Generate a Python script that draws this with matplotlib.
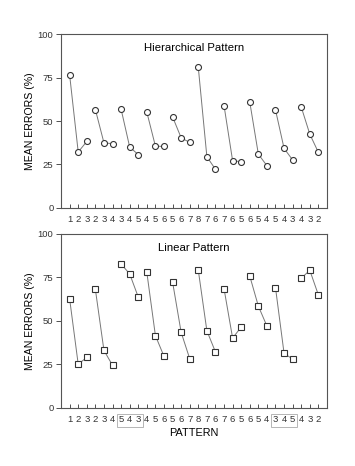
import matplotlib
matplotlib.use("Agg")
import matplotlib.pyplot as plt
from matplotlib.patches import Rectangle
import matplotlib.transforms as mtransforms

plt.rcParams['font.family'] = ['Liberation Sans', 'DejaVu Sans']

top_labels = [1,2,3,2,3,4,3,4,5,4,5,6,5,6,7,8,7,6,7,6,5,6,5,4,5,4,3,4,3,2]
bottom_labels = [1,2,3,2,3,4,5,4,3,4,5,6,5,6,7,8,7,6,7,6,5,6,5,4,3,4,5,4,3,2]

hier_values = [76.6, 32.2, 38.3, 56.7, 37.5, 37.0, 56.9, 35.1, 30.7, 55.2,
               35.6, 35.4, 52.5, 40.4, 37.7, 81.0, 29.5, 22.2, 59.0, 27.2,
               26.6, 61.1, 31.0, 24.3, 56.5, 34.3, 27.6, 58.2, 42.5, 32.0]
lin_values = [62.6, 25.0, 29.0, 68.1, 33.0, 24.4, 82.7, 77.0, 63.7, 77.9,
              41.5, 29.6, 72.4, 43.4, 28.2, 79.1, 44.3, 32.1, 68.5, 40.1,
              46.4, 75.8, 58.5, 47.0, 69.1, 31.3, 28.0, 74.5, 79.1, 64.9]
boxed_groups = [(7, 9), (25, 27)]

fig = plt.figure(figsize=(3.55, 4.66), dpi=100)
ax1 = fig.add_axes([0.172, 0.554, 0.749, 0.372])
ax2 = fig.add_axes([0.172, 0.125, 0.749, 0.373])

def draw(ax, values, labels, marker, title):
    xs = list(range(1, len(values) + 1))
    for g in range(0, len(values), 3):
        ax.plot(xs[g:g+3], values[g:g+3], color='#777777', lw=0.7,
                marker=marker, ms=4.3, mfc='white', mec='#333333', mew=0.8)
    ax.set_xlim(0, 31)
    ax.set_ylim(0, 100)
    ax.set_yticks([0, 25, 50, 75, 100])
    ax.set_xticks(xs)
    ax.set_xticklabels([str(v) for v in labels], fontsize=6.8)
    ax.tick_params(axis='x', direction='in', length=3, width=0.6, pad=5, colors='#333333')
    ax.tick_params(axis='y', direction='out', length=3.5, width=0.6, pad=2,
                   labelsize=6.8, colors='#333333')
    for s in ax.spines.values():
        s.set_color('#555555')
        s.set_linewidth(0.8)
    ax.set_ylabel('MEAN ERRORS (%)', fontsize=7.6, labelpad=2)
    ax.text(0.5, 0.92, title, transform=ax.transAxes, ha='center', va='center', fontsize=8.2)

draw(ax1, hier_values, top_labels, 'o', 'Hierarchical Pattern')
draw(ax2, lin_values, bottom_labels, 's', 'Linear Pattern')
ax2.set_xlabel('PATTERN', fontsize=7.8, labelpad=3)

trans = mtransforms.blended_transform_factory(ax2.transData, ax2.transAxes)
for a, b in boxed_groups:
    r = Rectangle((a - 0.5, -0.11), (b - a) + 1, 0.075, transform=trans,
                  fill=False, ec='#aaaaaa', lw=0.6, clip_on=False)
    ax2.add_patch(r)

fig.savefig('out.png', dpi=100)
